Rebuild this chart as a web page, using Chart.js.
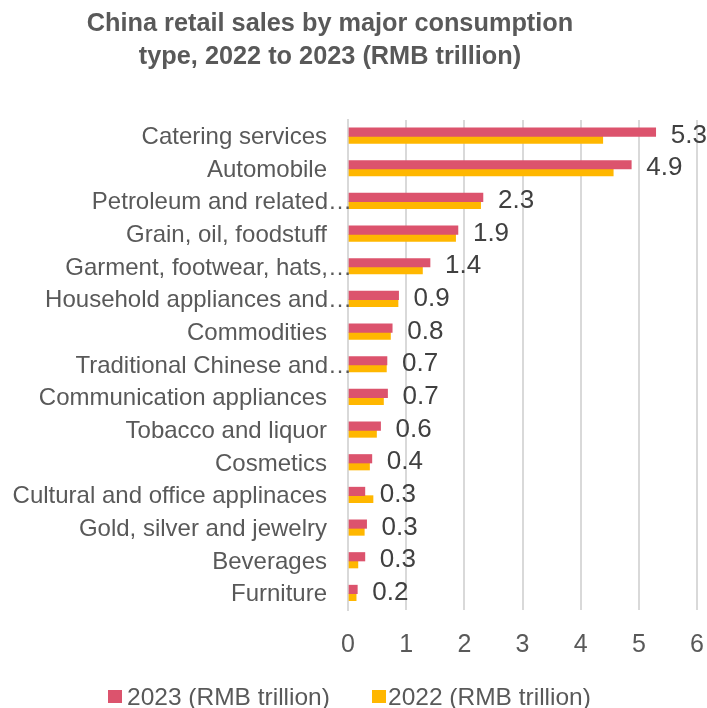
<!DOCTYPE html>
<html>
<head>
<meta charset="utf-8">
<title>China retail sales by major consumption type, 2022 to 2023</title>
<script src="https://cdn.jsdelivr.net/npm/chart.js@4/dist/chart.umd.min.js"></script>
<style>
  html, body { margin: 0; padding: 0; background: #ffffff; }
  #wrap { width: 707px; height: 708px; position: relative; }
</style>
</head>
<body>
<div id="wrap"><canvas id="chart" width="707" height="708"></canvas></div>
<script>
// Consumption categories, top to bottom
const categories = [
  'Catering services',
  'Automobile',
  'Petroleum and related…',
  'Grain, oil, foodstuff',
  'Garment, footwear, hats,…',
  'Household appliances and…',
  'Commodities',
  'Traditional Chinese and…',
  'Communication appliances',
  'Tobacco and liquor',
  'Cosmetics',
  'Cultural and office applinaces',
  'Gold, silver and jewelry',
  'Beverages',
  'Furniture'
];

// Retail sales, RMB trillion
const sales2023 = [5.29, 4.87, 2.32, 1.89, 1.41, 0.87, 0.76, 0.67, 0.68, 0.56, 0.41, 0.29, 0.32, 0.29, 0.16];
const sales2022 = [4.38, 4.56, 2.28, 1.85, 1.28, 0.86, 0.73, 0.66, 0.61, 0.49, 0.37, 0.43, 0.28, 0.17, 0.14];

const xTicks = [0, 1, 2, 3, 4, 5, 6];

const seriesNames = ['2023 (RMB trillion)', '2022 (RMB trillion)'];
const seriesColors = ['#DC536D', '#FFB700'];

const FONT = '"Liberation Sans", Arial, Helvetica, sans-serif';
const TEXT_GREY = '#595959';

// Two-line bold title, centred above the plot
const titlePlugin = {
  id: 'titleText',
  afterDraw(chart) {
    const ctx = chart.ctx;
    ctx.save();
    ctx.font = 'bold 25.3px ' + FONT;
    ctx.fillStyle = TEXT_GREY;
    ctx.textAlign = 'center';
    ctx.textBaseline = 'alphabetic';
    ctx.fillText('China retail sales by major consumption', 330, 31);
    ctx.fillText('type, 2022 to 2023 (RMB trillion)', 330, 64);
    ctx.restore();
  }
};

// Category names beside the vertical axis; shortened names (ending in …)
// run right up to the axis line, full names keep a gap before it
const categoryLabelPlugin = {
  id: 'categoryLabels',
  afterDraw(chart) {
    const ctx = chart.ctx;
    const yScale = chart.scales.y;
    const axisX = chart.chartArea.left;
    ctx.save();
    ctx.font = '24px ' + FONT;
    ctx.fillStyle = TEXT_GREY;
    ctx.textAlign = 'right';
    ctx.textBaseline = 'middle';
    chart.data.labels.forEach((name, i) => {
      const right = name.endsWith('…') ? axisX + 4 : axisX - 21;
      ctx.fillText(name, right, yScale.getPixelForValue(i) + 1);
    });
    ctx.restore();
  }
};

// Value labels for the 2023 series, just past the end of each bar
const valueLabelPlugin = {
  id: 'valueLabels',
  afterDatasetsDraw(chart) {
    const ctx = chart.ctx;
    const meta = chart.getDatasetMeta(0);
    const yScale = chart.scales.y;
    ctx.save();
    ctx.font = '26px ' + FONT;
    ctx.fillStyle = '#404040';
    ctx.textAlign = 'left';
    ctx.textBaseline = 'middle';
    meta.data.forEach((bar, i) => {
      const v = chart.data.datasets[0].data[i];
      ctx.fillText(v.toFixed(1), bar.x + 15, yScale.getPixelForValue(i) - 1);
    });
    ctx.restore();
  }
};

// Legend row along the bottom edge
const legendPlugin = {
  id: 'bottomLegend',
  afterDraw(chart) {
    const ctx = chart.ctx;
    const items = [
      { box: 108, text: 127 },
      { box: 372, text: 388 }
    ];
    ctx.save();
    ctx.font = '24.5px ' + FONT;
    ctx.textAlign = 'left';
    ctx.textBaseline = 'alphabetic';
    items.forEach((it, i) => {
      ctx.fillStyle = seriesColors[i];
      ctx.fillRect(it.box, 690, 14, 13);
      ctx.fillStyle = TEXT_GREY;
      ctx.fillText(seriesNames[i], it.text, 705);
    });
    ctx.restore();
  }
};

new Chart(document.getElementById('chart'), {
  type: 'bar',
  data: {
    labels: categories,
    datasets: [
      {
        label: seriesNames[0],
        data: sales2023,
        backgroundColor: seriesColors[0],
        barThickness: 8.5,
        categoryPercentage: 0.56,
        barPercentage: 0.92
      },
      {
        label: seriesNames[1],
        data: sales2022,
        backgroundColor: seriesColors[1],
        barThickness: 7,
        categoryPercentage: 0.56,
        barPercentage: 0.92
      }
    ]
  },
  options: {
    indexAxis: 'y',
    responsive: false,
    animation: false,
    layout: { padding: { top: 120, right: 10, bottom: 0, left: 0 } },
    plugins: {
      legend: { display: false },
      title: { display: false },
      tooltip: { enabled: false }
    },
    scales: {
      x: {
        min: 0,
        max: 6,
        afterBuildTicks(scale) {
          scale.ticks = xTicks.map(v => ({ value: v }));
        },
        afterFit(scale) {
          scale.height = 98;
          scale.paddingLeft = 0;
          scale.paddingRight = 0;
        },
        grid: { color: '#D9D9D9', lineWidth: 2, drawTicks: false },
        border: { display: false },
        ticks: {
          color: TEXT_GREY,
          font: { family: FONT, size: 25 },
          padding: 20
        }
      },
      y: {
        afterFit(scale) { scale.width = 348; },
        grid: { display: false, drawTicks: false },
        border: { display: true, color: '#D9D9D9', width: 2 },
        ticks: { display: false }
      }
    }
  },
  plugins: [titlePlugin, categoryLabelPlugin, valueLabelPlugin, legendPlugin]
});
</script>
</body>
</html>
